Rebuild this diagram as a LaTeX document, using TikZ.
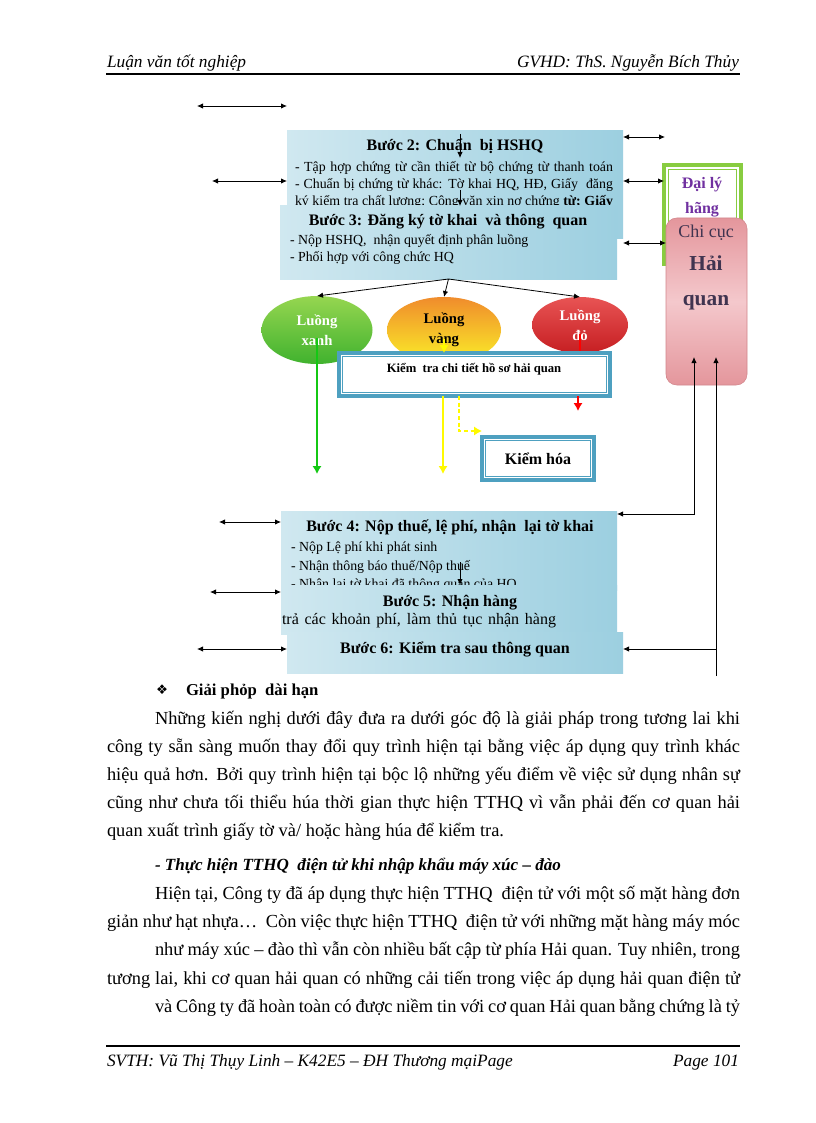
\documentclass[tikz,border=0pt]{standalone}
\usepackage{fontspec}
\setmainfont{Liberation Serif}
\newfontfamily\symfont{DejaVu Sans}
\usetikzlibrary{positioning,arrows.meta,shapes.geometric}

\definecolor{hqblue}{RGB}{156,207,224}
\definecolor{hqblueL}{RGB}{208,232,240}
\definecolor{frameblue}{RGB}{78,160,192}
\definecolor{dlgreen}{RGB}{136,204,64}
\definecolor{dlpurple}{RGB}{112,48,160}
\definecolor{ccpinkD}{RGB}{228,150,156}
\definecolor{ccpinkL}{RGB}{244,200,204}
\definecolor{ccedge}{RGB}{210,134,140}
\definecolor{cctext}{RGB}{64,52,80}
\definecolor{xanhL}{RGB}{150,214,80}
\definecolor{xanhD}{RGB}{64,178,46}
\definecolor{vangT}{RGB}{240,140,44}
\definecolor{vangB}{RGB}{250,238,40}
\definecolor{doL}{RGB}{232,84,84}
\definecolor{doD}{RGB}{198,30,34}
\definecolor{arrgreen}{RGB}{20,200,20}
\definecolor{arryellow}{RGB}{255,250,0}

\newcommand{\jline}[2]{\makebox[#1][s]{#2}}

\begin{document}
\begin{tikzpicture}[
  x=0.75pt, y=-0.75pt,
  every node/.style={inner sep=0pt, outer sep=0pt},
  hdr/.style={font=\fontsize{13}{15}\selectfont\itshape},
  body/.style={anchor=north west, align=left, font=\fontsize{13.8}{21}\selectfont},
  stepbox/.style 2 args={anchor=north west, minimum width=#1*0.75pt, minimum height=#2*0.75pt, left color=hqblueL, right color=hqblue},
  steptitle/.style={anchor=base, font=\fontsize{12}{14}\selectfont\bfseries},
  steplines/.style={anchor=north west, align=left, font=\fontsize{10.4}{12.75}\selectfont},
  luong/.style 2 args={ellipse, minimum width=#1*0.75pt, minimum height=#2*0.75pt, align=center, font=\fontsize{11}{15}\selectfont\bfseries},
  frame/.style 2 args={anchor=north west, minimum width=#1*0.75pt, minimum height=#2*0.75pt, fill=white, draw=frameblue, line width=2.4pt,
    path picture={\draw[frameblue, line width=0.7pt] ([shift={(2.8pt,-2.8pt)}]path picture bounding box.north west) rectangle ([shift={(-2.8pt,2.8pt)}]path picture bounding box.south east);}},
  gframe/.style 2 args={anchor=north west, minimum width=#1*0.75pt, minimum height=#2*0.75pt, fill=white, draw=dlgreen, line width=3pt,
    path picture={\draw[dlgreen, line width=0.8pt] ([shift={(3.2pt,-3.2pt)}]path picture bounding box.north west) rectangle ([shift={(-3.2pt,3.2pt)}]path picture bounding box.south east);}},
  dbl/.style={{Latex[length=4.5pt,width=4pt]}-{Latex[length=4.5pt,width=4pt]}, line width=0.6pt},
  sarrow/.style={-{Latex[length=4.5pt,width=4pt]}, line width=0.6pt},
  garrow/.style={-{Latex[length=6pt,width=7pt]}, draw=arrgreen, line width=2.2pt},
  varrow/.style={-{Latex[length=6pt,width=7pt]}, draw=arryellow, line width=2.2pt},
  vdot/.style={-{Latex[length=6pt,width=7pt]}, draw=arryellow, line width=2.2pt, dash pattern=on 3pt off 2pt},
  darrow/.style={draw=red, line width=2.2pt}
]
\fill[white] (0,0) rectangle (816,1123);
\useasboundingbox (0,0) rectangle (816,1123);

% header and footer
\node[hdr, anchor=base west] (hdrL) at (107,68) {Luận văn tốt nghiệp};
\node[hdr, anchor=base east] (hdrR) at (739,68) {GVHD: ThS. Nguyễn Bích Thủy};
\draw[line width=1.6pt] (106,74) -- (740,74);
\draw[line width=1.6pt] (106,1046) -- (740,1046);
\node[hdr, anchor=base west] (ftrL) at (107,1066) {SVTH: Vũ Thị Thụy Linh – K42E5 – ĐH Thương mạiPage};
\node[hdr, anchor=base east] (ftrR) at (739,1066) {Page 101};

% buoc 2 and 3
\node[stepbox={336}{107}] (step2) at (287,131) {};
\node[steptitle] (step2t) at (455,151) {Bước 2: Chuẩn\ \ bị HSHQ};
\node[steplines] (step2l) at (295,161) {\jline{238.5pt}{- Tập hợp chứng từ cần thiết từ bộ chứng từ thanh toán}\\
  \jline{238.5pt}{- Chuẩn bị chứng từ khác: Tờ khai HQ, HĐ, Giấy\ \ đăng}\\
  \jline{238.5pt}{ký kiểm tra chất lượng; Công văn xin nợ chứng {\bfseries từ; Giấy}}};
\coordinate (a2a) at (460,134);
\coordinate (a2b) at (460,158);
\draw[sarrow] (a2a) -- (a2b);

\node[stepbox={337}{73}] (step3) at (280,206) {};
\node[steptitle] (step3t) at (448,226) {Bước 3: Đăng ký tờ khai\ \ và thông\ \ quan};
\node[steplines] (step3l) at (290,234) {- Nộp HSHQ,\ \ nhận quyết định phân luồng\\- Phối hợp với công chức HQ};
\coordinate (a23) at (460,190);
\draw[sarrow] (a23) -- (a23 |- step3.north);

% agents on the right
\node[gframe={77}{99}] (daily) at (664,165) {};
\node[anchor=base, text=dlpurple, font=\fontsize{12}{14}\selectfont\bfseries] (dailyT1) at (702,189) {Đại lý};
\node[anchor=base, text=dlpurple, font=\fontsize{12}{14}\selectfont\bfseries] (dailyT2) at (702,214) {hãng};
\node[anchor=north west, minimum width=81*0.75pt, minimum height=167*0.75pt, rounded corners=8pt, draw=ccedge,
  top color=ccpinkD, bottom color=ccpinkD, middle color=ccpinkL] (chicuc) at (666,218) {};
\node[anchor=base, text=cctext, font=\fontsize{13.5}{15}\selectfont] (ccT1) at (706,238) {Chi cục};
\node[anchor=base, text=cctext, font=\fontsize{16}{18}\selectfont\bfseries] (ccT2) at (706,270) {Hải};
\node[anchor=base, text=cctext, font=\fontsize{16}{18}\selectfont\bfseries] (ccT3) at (706,305) {quan};

\coordinate (r1) at (665,137);
\coordinate (r2) at (0,181);
\coordinate (r3) at (0,243);
\draw[dbl] (step2.east |- r1) -- (r1);
\draw[dbl] (step2.east |- r2) -- (daily.west |- r2);
\draw[dbl] (step2.east |- r3) -- (chicuc.west |- r3);

\coordinate (l1) at (197,106);
\coordinate (l2) at (212,181);
\draw[dbl] (l1) -- (l1 -| step2.west);
\draw[dbl] (l2) -- (l2 -| step2.west);

% the three lanes
\node[luong={111}{68}, top color=xanhL, bottom color=xanhD, text=white] (luongX) at (317,330) {Luồng\\xanh};
\node[luong={114}{66}, top color=vangT, bottom color=vangB, text=black] (luongV) at (444,330) {Luồng\\vàng};
\node[luong={96}{56}, top color=doL, bottom color=doD, text=white] (luongD) at (580,325) {Luồng\\đỏ};
\draw[sarrow] (step3.south) -- (luongX.north);
\draw[sarrow] (step3.south) -- (luongV.north);
\draw[sarrow] (step3.south) -- (luongD.north);

\coordinate (xanhEnd) at (317,474);
\draw[garrow] ([yshift=-6pt]luongX.center) -- (xanhEnd);
\draw[darrow] ([yshift=-7pt]luongD.center) -- (luongD.center |- 0,356);

\node[frame={271}{43}] (ktct) at (339,353) {};
\node[anchor=base, font=\fontsize{9.5}{11}\selectfont\bfseries] (ktctT) at (474,372) {Kiểm\ \ tra chi tiết hồ sơ hải quan};
\draw[varrow] ([yshift=-7pt]luongV.center) -- (luongV.center |- ktct.north);

\node[frame={112}{43}, font=\fontsize{12}{14}\selectfont\bfseries] (kiemhoa) at (482,437) {Kiểm hóa};

\coordinate (vangEnd) at (443,474);
\coordinate (dotTurn) at (459,431);
\coordinate (doEnd) at (578,411);
\draw[varrow] (vangEnd |- ktct.south) -- (vangEnd);
\draw[vdot] (dotTurn |- ktct.south) -- (dotTurn) -- (dotTurn -| kiemhoa.west);
\draw[darrow, -{Latex[length=6pt,width=7pt]}] (doEnd |- ktct.south) -- (doEnd);

% buoc 4 to 6
\node[stepbox={336}{79}] (step4) at (281,511) {};
\node[steptitle] (step4t) at (450,531) {Bước 4: Nộp thuế, lệ phí, nhận\ \ lại tờ khai};
\node[steplines, font=\fontsize{10.4}{13.9}\selectfont] (step4l) at (291,542) {- Nộp Lệ phí khi phát sinh\\- Nhận thông báo thuế/Nộp thuế\\- Nhận lại tờ khai đã thông quan của HQ};
\coordinate (a45) at (460,562);

\node[stepbox={336}{49}] (step5) at (281,585) {};
\draw[sarrow] (a45) -- (a45 |- step5.north);
\node[steptitle] (step5t) at (450,606) {Bước 5: Nhận hàng};
\node[anchor=base west, font=\fontsize{12}{14}\selectfont] (step5l) at (282,624) {\jline{205.5pt}{trả các khoản phí, làm thủ tục nhận hàng}};

\node[stepbox={336}{41}] (step6) at (287,632) {};
\node[steptitle] (step6t) at (455,653) {Bước 6: Kiểm tra sau thông quan};

\coordinate (l4) at (219,522);
\coordinate (l5) at (210,592);
\coordinate (l6) at (197,649);
\draw[dbl] (l4) -- (l4 -| step4.west);
\draw[dbl] (l5) -- (l5 -| step5.west);
\draw[dbl] (l6) -- (l6 -| step6.west);

\coordinate (cc1) at (694,357);
\coordinate (cc2) at (716,357);
\coordinate (ccEnd) at (716,676);
\draw[dbl] (cc1) |- (step4.east |- 0,514);
\draw[sarrow] (ccEnd) -- (cc2);
\draw[sarrow] (cc2 |- 0,649) -- (step6.east |- 0,649);

% text below the chart
\node[anchor=base, font=\symfont\fontsize{10}{12}\selectfont] (bul) at (162,694) {❖};
\node[anchor=base west, font=\fontsize{12.5}{15}\selectfont\bfseries] (sec) at (186,695) {Giải phỏp\ \ dài hạn};
\node[body] (para1) at (107,711) {\hspace*{36pt}\jline{438.75pt}{Những kiến nghị dưới đây đưa ra dưới góc độ là giải pháp trong tương lai khi}\\
  \jline{474.75pt}{công ty sẵn sàng muốn thay đổi quy trình hiện tại bằng việc áp dụng quy trình khác}\\
  \jline{474.75pt}{hiệu quả hơn. Bởi quy trình hiện tại bộc lộ những yếu điểm về việc sử dụng nhân sự}\\
  \jline{474.75pt}{cũng như chưa tối thiểu húa thời gian thực hiện TTHQ vì vẫn phải đến cơ quan hải}\\
  quan xuất trình giấy tờ và/ hoặc hàng húa để kiểm tra.};
\node[anchor=base west, font=\fontsize{12.8}{15}\selectfont\bfseries\itshape] (sub2) at (155,870) {- Thực hiện TTHQ\ \ điện tử khi nhập khẩu máy xúc – đào};
\node[body, font=\fontsize{13.8}{21.2}\selectfont] (para2) at (107,886) {\hspace*{36pt}\jline{438.75pt}{Hiện tại, Công ty đã áp dụng thực hiện TTHQ\ \ điện tử với một số mặt hàng đơn}\\
  \jline{474.75pt}{giản như hạt nhựa…\ \ Còn việc thực hiện TTHQ\ \ điện tử với những mặt hàng máy móc}\\
  \hspace*{36pt}\jline{438.75pt}{như máy xúc – đào thì vẫn còn nhiều bất cập từ phía Hải quan. Tuy nhiên, trong}\\
  \jline{474.75pt}{tương lai, khi cơ quan hải quan có những cải tiến trong việc áp dụng hải quan điện tử}\\
  \hspace*{36pt}\jline{438.75pt}{và Công ty đã hoàn toàn có được niềm tin với cơ quan Hải quan bằng chứng là tỷ}};
\end{tikzpicture}
\end{document}
